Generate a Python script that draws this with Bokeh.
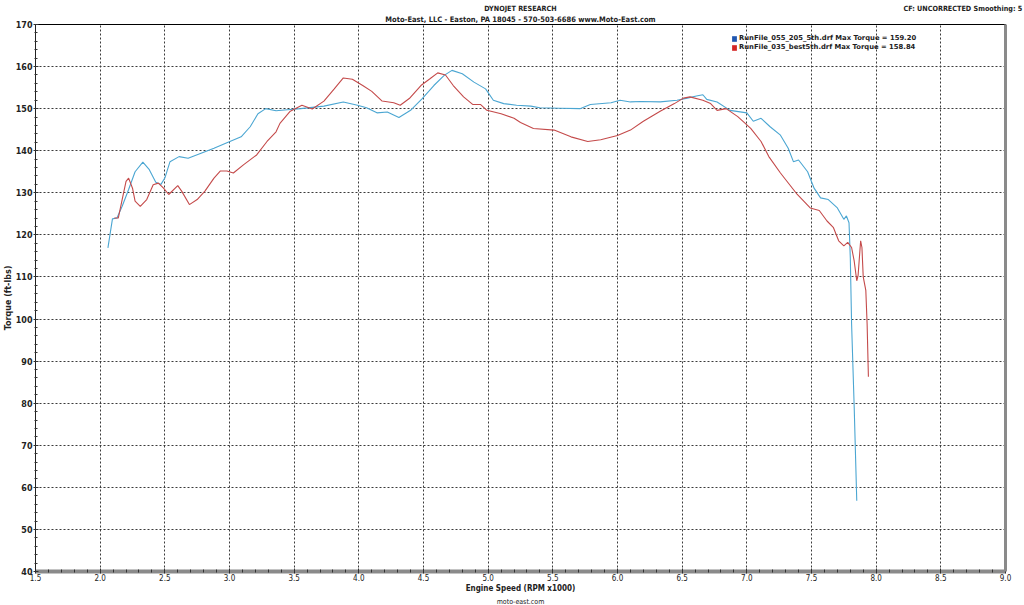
from bokeh.plotting import figure
from bokeh.models import (Legend, LegendItem, LinearAxis, FixedTicker, Title,
                          CustomJSTickFormatter)
from bokeh.embed import file_html
from bokeh.resources import INLINE

# ---- data ----
blue_rpm = [2.06, 2.095, 2.13, 2.17, 2.22, 2.27, 2.33, 2.38, 2.43, 2.47, 2.50, 2.54, 2.61, 2.68,
            2.78, 2.88, 2.98, 3.09, 3.16, 3.22, 3.28, 3.36, 3.47, 3.55, 3.73, 3.88, 3.99, 4.06,
            4.14, 4.22, 4.31, 4.40, 4.49, 4.58, 4.66, 4.72, 4.80, 4.89, 4.98, 5.04, 5.12, 5.22,
            5.33, 5.40, 5.55, 5.71, 5.79, 5.95, 6.02, 6.10, 6.18, 6.33, 6.46, 6.54, 6.61, 6.66,
            6.69, 6.77, 6.87, 7.00, 7.05, 7.11, 7.18, 7.26, 7.32, 7.36, 7.40, 7.47, 7.52, 7.57,
            7.63, 7.70, 7.75, 7.77, 7.79, 7.80, 7.81, 7.83, 7.85]
blue_tq = [116.9, 123.8, 124.0, 126.8, 130.8, 135.0, 137.3, 135.5, 132.5, 132.0, 133.5, 137.4,
           138.6, 138.2, 139.4, 140.6, 141.9, 143.3, 145.7, 148.8, 150.0, 149.5, 149.8, 150.0,
           150.6, 151.6, 150.8, 150.2, 149.0, 149.2, 147.9, 149.6, 152.4, 155.5, 157.9, 159.1,
           158.3, 156.3, 154.7, 152.0, 151.2, 150.8, 150.6, 150.2, 150.1, 150.0, 151.0, 151.4,
           152.0, 151.6, 151.7, 151.6, 152.0, 152.5, 153.0, 153.3, 152.2, 151.6, 149.6, 149.0,
           147.0, 147.7, 145.7, 143.7, 140.6, 137.4, 137.8, 135.0, 131.1, 128.8, 128.4, 126.4,
           123.7, 124.5, 122.9, 114.6, 98.9, 79.2, 56.8]

red_rpm = [2.11, 2.14, 2.17, 2.20, 2.22, 2.25, 2.27, 2.31, 2.36, 2.41, 2.45, 2.49, 2.53, 2.60,
           2.63, 2.69, 2.75, 2.81, 2.88, 2.93, 2.98, 3.03, 3.11, 3.21, 3.29, 3.36, 3.39, 3.47,
           3.56, 3.64, 3.73, 3.81, 3.88, 3.95, 4.03, 4.10, 4.18, 4.27, 4.32, 4.39, 4.48, 4.55,
           4.61, 4.67, 4.73, 4.81, 4.88, 4.94, 4.99, 5.10, 5.20, 5.25, 5.35, 5.51, 5.64, 5.77,
           5.87, 6.00, 6.10, 6.20, 6.33, 6.44, 6.51, 6.56, 6.66, 6.72, 6.77, 6.84, 6.93, 7.03,
           7.11, 7.17, 7.26, 7.39, 7.49, 7.56, 7.62, 7.67, 7.71, 7.75, 7.78, 7.81, 7.83, 7.85,
           7.86, 7.88, 7.89, 7.90, 7.92, 7.93, 7.94]
red_tq = [124.0, 124.0, 128.4, 132.7, 133.5, 131.1, 128.0, 126.8, 128.4, 131.9, 132.3, 131.1,
          129.6, 131.7, 130.4, 127.2, 128.4, 130.4, 133.5, 135.2, 135.2, 134.7, 136.7, 139.0,
          142.2, 144.5, 146.5, 149.4, 150.8, 149.9, 151.8, 154.7, 157.3, 157.0, 155.5, 154.1,
          151.8, 151.4, 150.8, 152.4, 155.5, 157.1, 158.5, 158.0, 155.5, 152.8, 151.0, 151.0,
          149.6, 148.8, 147.7, 146.7, 145.3, 144.9, 143.3, 142.2, 142.6, 143.6, 144.9, 147.0,
          149.4, 151.2, 152.5, 152.8, 152.0, 151.2, 149.6, 150.0, 148.1, 145.3, 142.2, 138.6,
          134.7, 129.6, 126.4, 125.8, 123.3, 121.7, 118.6, 117.4, 118.2, 117.0, 113.8, 109.1,
          110.3, 118.6, 117.0, 110.0, 106.8, 98.9, 86.3]

legend_labels = ["RunFile_055_205_5th.drf Max Torque = 159.20",
                 "RunFile_035_best5th.drf Max Torque = 158.84"]
header_texts = {5.25: "DYNOJET RESEARCH", 8.68: "CF: UNCORRECTED  Smoothing: 5"}
subtitle = "Moto-East, LLC - Easton, PA 18045 - 570-503-6686 www.Moto-East.com"
footer = "moto-east.com"
x_ticks = [1.5, 2.0, 2.5, 3.0, 3.5, 4.0, 4.5, 5.0, 5.5, 6.0, 6.5, 7.0, 7.5, 8.0, 8.5, 9.0]
y_ticks = [40, 50, 60, 70, 80, 90, 100, 110, 120, 130, 140, 150, 160, 170]
x_minor = [round(1.5 + 0.1 * i, 2) for i in range(76)]
y_minor = list(range(40, 171, 2))

BLUE = "#4ba6d2"
RED = "#c44a4a"
FONT = "DejaVu Sans"
NARROW = "'DejaVu Sans Condensed', 'Liberation Sans Narrow', 'DejaVu Sans'"
TXT = "#222222"

W, H = 1024, 605
TOP, BOTTOM = 22, 32
FRAME_H = H - TOP - BOTTOM

p = figure(width=W, height=H, output_backend="svg", toolbar_location=None,
           x_range=(1.5, 9.0), y_range=(40, 170),
           min_border_top=TOP, min_border_left=8, min_border_right=19,
           min_border_bottom=BOTTOM)
p.background_fill_color = "white"
p.border_fill_color = "white"
p.outline_line_color = "black"
p.outline_line_width = 1

# axes
p.xaxis.ticker = FixedTicker(ticks=x_ticks, minor_ticks=x_minor)
p.yaxis.ticker = FixedTicker(ticks=y_ticks, minor_ticks=y_minor)
p.xaxis.formatter = CustomJSTickFormatter(code="return tick.toFixed(1)")
p.xaxis.axis_label = "Engine Speed (RPM x1000)"
p.yaxis.axis_label = "Torque (ft-lbs)"
for ax in (p.xaxis[0], p.yaxis[0]):
    ax.axis_label_text_font = FONT
    ax.axis_label_text_font_size = "8px"
    ax.axis_label_text_font_style = "bold"
    ax.axis_label_standoff = 0
    ax.major_label_text_font = FONT
    ax.major_label_text_font_size = "8px"
    ax.major_label_standoff = 1
    ax.major_tick_in = 3
    ax.major_tick_out = 2
    ax.minor_tick_in = 2
    ax.minor_tick_out = 1
    ax.major_tick_line_color = "#333333"
    ax.minor_tick_line_color = "#333333"
    ax.major_label_text_color = TXT
    ax.axis_label_text_color = TXT
p.xaxis.major_label_text_font = NARROW
p.xaxis.axis_label_text_font = NARROW
p.xaxis.major_label_standoff = 0
p.yaxis.major_label_text_font_style = "bold"
p.yaxis.axis_line_color = "#222222"
p.xaxis.axis_line_color = "#8a8a8a"
p.xaxis.axis_line_width = 4

# right shadow border
rax = LinearAxis(ticker=FixedTicker(ticks=[]), major_label_text_font_size="0px",
                 axis_line_color="#8a8a8a", axis_line_width=3,
                 major_tick_line_color=None, minor_tick_line_color=None)
p.add_layout(rax, "right")

# header: subtitle row next to the frame, then a row with title + CF info
p.add_layout(Title(text=subtitle, align="center", standoff=1, text_font=NARROW,
                   text_font_size="7.5px", text_font_style="bold", text_color=TXT,
                   text_line_height=1.0), "above")
hax = LinearAxis(ticker=FixedTicker(ticks=list(header_texts.keys())),
                 major_label_overrides=header_texts,
                 axis_line_color=None, major_tick_line_color=None, minor_tick_line_color=None,
                 major_tick_in=0, major_tick_out=0, major_label_standoff=0,
                 major_label_text_font=NARROW, major_label_text_font_size="7.2px",
                 major_label_text_font_style="bold", major_label_text_color=TXT)
p.add_layout(hax, "above")

# footer
p.add_layout(Title(text=footer, align="center", standoff=0, text_font=NARROW,
                   text_font_size="7px", text_font_style="normal", text_color=TXT,
                   text_line_height=1.0), "below")

# grid
for g in (p.xgrid[0], p.ygrid[0]):
    g.grid_line_color = "#3a3a3a"
    g.grid_line_dash = "2 2"
    g.grid_line_width = 1

# curves
p.line(blue_rpm, blue_tq, line_color=BLUE, line_width=1.1)
p.line(red_rpm, red_tq, line_color=RED, line_width=1.1)

# legend swatches: zero-size rects on each series' first point (invisible on the chart)
sw_b = p.rect(x=blue_rpm[:1], y=blue_tq[:1], width=0, height=0,
              fill_color="#1f56b0", line_color=None)
sw_r = p.rect(x=red_rpm[:1], y=red_tq[:1], width=0, height=0,
              fill_color="#d42525", line_color=None)
legend = Legend(items=[LegendItem(label=legend_labels[0], renderers=[sw_b]),
                       LegendItem(label=legend_labels[1], renderers=[sw_r])],
                location=(696, FRAME_H - 31), background_fill_alpha=0, border_line_color=None,
                label_text_font=FONT, label_text_font_size="6.8px", label_text_font_style="bold",
                label_text_color=TXT, glyph_width=6, glyph_height=7, label_height=8,
                spacing=1, padding=0, margin=0, label_standoff=2)
p.add_layout(legend, "center")

open("out.html", "w").write(file_html(p, INLINE))
